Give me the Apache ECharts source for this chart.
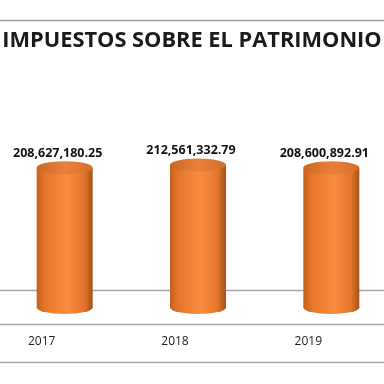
<!DOCTYPE html>
<html>
<head>
<meta charset="utf-8">
<script src="https://cdn.jsdelivr.net/npm/echarts@6/dist/echarts.min.js"></script>
<style>
html,body{margin:0;padding:0;background:#fff;}
#chart{width:384px;height:384px;}
</style>
</head>
<body>
<div id="chart"></div>
<script>
const titleText = 'IMPUESTOS SOBRE EL PATRIMONIO';
const categories = ['2017', '2018', '2019'];
const values = [208627180.25, 212561332.79, 208600892.91];

const bodyGrad = new echarts.graphic.LinearGradient(0, 0, 1, 0, [
  {offset: 0, color: '#c4601c'},
  {offset: 0.15, color: '#e5772a'},
  {offset: 0.55, color: '#f98c3d'},
  {offset: 0.85, color: '#e3752a'},
  {offset: 1, color: '#a4521a'}
]);
const topGrad = new echarts.graphic.LinearGradient(0, 0, 1, 0, [
  {offset: 0, color: '#cc6824'},
  {offset: 0.5, color: '#e8803a'},
  {offset: 1, color: '#d46e28'}
]);

const chart = echarts.init(document.getElementById('chart'), null, {renderer: 'canvas'});
const fmt = v => Number(v).toLocaleString('en-US', {minimumFractionDigits: 2, maximumFractionDigits: 2});

chart.setOption({
  backgroundColor: '#fff',
  animation: false,
  title: {
    text: titleText,
    left: 'center',
    top: 25,
    textStyle: {fontSize: 21.8, fontWeight: 'bold', color: '#1a1a1a', fontFamily: 'Open Sans'}
  },
  grid: {left: -2, width: 400, top: 106.5, bottom: 76.5, containLabel: false, outerBoundsMode: 'none'},
  xAxis: {
    type: 'category',
    data: categories,
    axisLine: {show: false},
    axisTick: {show: false},
    axisLabel: {margin: 28, fontSize: 12, color: '#222', fontFamily: 'Open Sans', padding: [0, 46, 0, 0]}
  },
  yAxis: {type: 'value', min: 0, max: 300000000, show: false},
  graphic: [
    {type: 'line', z: -10, shape: {x1: 0, y1: 20.5, x2: 384, y2: 20.5}, style: {stroke: '#9a9a9a', lineWidth: 1.5}},
    {type: 'line', z: -10, shape: {x1: 0, y1: 290.5, x2: 384, y2: 290.5}, style: {stroke: '#a6a6a6', lineWidth: 1.5}},
    {type: 'line', z: -10, shape: {x1: 0, y1: 324.5, x2: 384, y2: 324.5}, style: {stroke: '#a6a6a6', lineWidth: 1.5}},
    {type: 'line', z: -10, shape: {x1: 0, y1: 362.5, x2: 384, y2: 362.5}, style: {stroke: '#a6a6a6', lineWidth: 1.5}}
  ],
  series: [
    {
      type: 'pictorialBar',
      data: values,
      symbol: 'circle',
      symbolSize: [56, 13],
      symbolPosition: 'start',
      symbolOffset: [0, '50%'],
      itemStyle: {color: bodyGrad},
      z: 1
    },
    {
      type: 'bar',
      data: values,
      barWidth: 56,
      itemStyle: {color: bodyGrad},
      z: 2
    },
    {
      type: 'pictorialBar',
      data: values,
      symbol: 'circle',
      symbolSize: [56, 13],
      symbolPosition: 'end',
      symbolOffset: [0, '-50%'],
      itemStyle: {color: topGrad},
      z: 3
    },
    {
      type: 'bar',
      data: values,
      barWidth: 56,
      barGap: '-100%',
      itemStyle: {color: 'rgba(0,0,0,0)'},
      label: {
        show: true,
        position: 'top',
        distance: 12,
        offset: [-7, 4],
        formatter: p => fmt(p.value),
        fontSize: 12.5,
        fontWeight: 'bold',
        color: '#111',
        fontFamily: 'Open Sans'
      },
      z: 5
    }
  ]
});
</script>
</body>
</html>
